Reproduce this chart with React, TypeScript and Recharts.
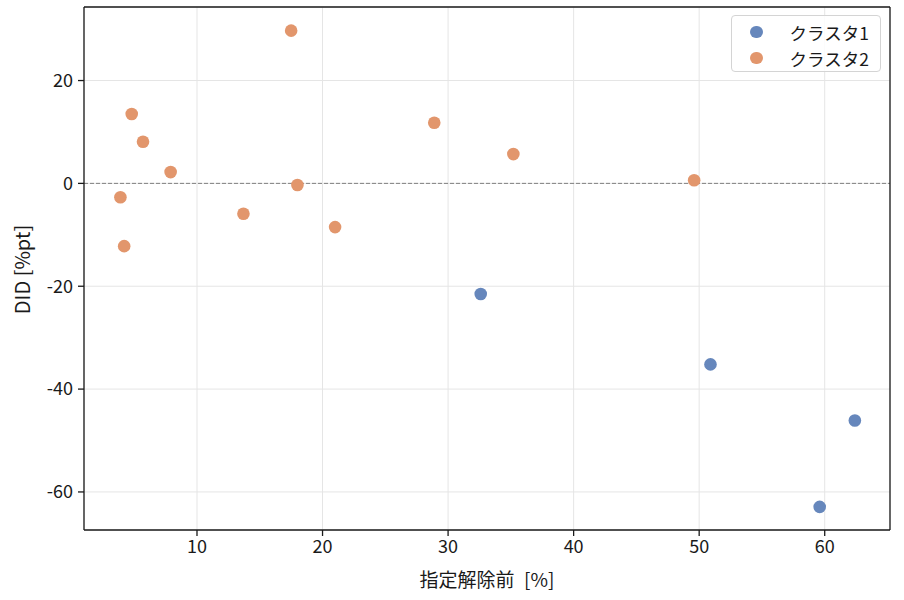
import React from 'react';
import {
  ScatterChart, Scatter, XAxis, YAxis, CartesianGrid, ReferenceLine,
} from 'recharts';

// cluster 1 (blue)
const cluster1X = [32.6, 50.9, 62.4, 59.6];
const cluster1Y = [-21.5, -35.2, -46.1, -62.9];
// cluster 2 (orange)
const cluster2X = [3.9, 4.2, 4.8, 5.7, 7.9, 13.7, 17.5, 18.0, 21.0, 28.9, 35.2, 49.6];
const cluster2Y = [-2.7, -12.2, 13.5, 8.1, 2.2, -5.9, 29.7, -0.3, -8.5, 11.8, 5.7, 0.6];

const xTicks = [10, 20, 30, 40, 50, 60];
const yTicks = [-60, -40, -20, 0, 20];
const xDomain = [1.0, 65.2];
const yDomain = [-67.4, 34.3];
const seriesNames = ['クラスタ1', 'クラスタ2'];
const seriesColors = ['#6687BC', '#E2966C'];

const toPoints = (xs: number[], ys: number[]) => xs.map((x, i) => ({ x, y: ys[i] }));
const data1 = toPoints(cluster1X, cluster1Y);
const data2 = toPoints(cluster2X, cluster2Y);

const FONT = '"Noto Sans CJK JP", "Noto Sans", sans-serif';
const INK = '#1a1a1a';
const tickStyle = { fontSize: 18, fill: INK, fontFamily: FONT };

const Dot = (props: any) => {
  const { cx, cy, fill } = props;
  return <circle cx={cx} cy={cy} r={6.3} fill={fill} />;
};

const LegendBox = () => (
  <div style={{
    position: 'absolute', left: 731, top: 15, width: 150, height: 57,
    border: '1px solid #d4d4d4', borderRadius: 4, background: 'rgba(255,255,255,0.85)',
    fontFamily: FONT, fontSize: 17.5, color: INK, boxSizing: 'border-box',
  }}>
    {seriesNames.map((n, i) => (
      <div key={n} style={{ display: 'flex', alignItems: 'center', height: 26, marginTop: i === 0 ? 3 : 0 }}>
        <span style={{
          display: 'inline-block', width: 12.6, height: 12.6, borderRadius: '50%',
          background: seriesColors[i], marginLeft: 18, marginRight: 27,
        }} />
        <span>{n}</span>
      </div>
    ))}
  </div>
);

const YLabel = ({ viewBox }: any) => {
  const cy = viewBox.y + viewBox.height / 2 + 1;
  return (
    <text
      x={21} y={cy} transform={`rotate(-90, 21, ${cy})`}
      textAnchor="middle" dominantBaseline="central"
      style={{ fontSize: 20, fontFamily: FONT, fill: INK }}
    >DID [%pt]</text>
  );
};

const XLabel = ({ viewBox }: any) => (
  <text
    x={viewBox.x + viewBox.width / 2} y={578}
    textAnchor="middle" dominantBaseline="central"
    style={{ fontSize: 19, fontFamily: FONT, fill: INK }}
  >{'指定解除前\u2002[%]'}</text>
);

export default function App() {
  return (
    <div style={{ position: 'absolute', left: 0, top: 0, width: 904, height: 600, background: '#fff' }}>
      <ScatterChart width={904} height={600} margin={{ top: 7, right: 14, bottom: 0, left: 0 }}>
        <CartesianGrid stroke="#e5e5e5" strokeWidth={1} />
        <XAxis
          type="number" dataKey="x" domain={xDomain} ticks={xTicks} allowDataOverflow
          height={70} tick={tickStyle} tickSize={6} tickMargin={4}
          stroke={INK} strokeWidth={1.3} label={<XLabel />}
        />
        <YAxis
          type="number" dataKey="y" domain={yDomain} ticks={yTicks} allowDataOverflow
          width={84} tick={tickStyle} tickSize={6} tickMargin={5}
          stroke={INK} strokeWidth={1.3} label={<YLabel />}
        />
        <ReferenceLine y={0} stroke="#808080" strokeDasharray="4 2" strokeWidth={1} />
        <ReferenceLine y={yDomain[1]} stroke={INK} strokeWidth={1.3} />
        <ReferenceLine x={xDomain[1]} stroke={INK} strokeWidth={1.3} />
        <Scatter name={seriesNames[0]} data={data1} fill={seriesColors[0]} shape={<Dot />} isAnimationActive={false} />
        <Scatter name={seriesNames[1]} data={data2} fill={seriesColors[1]} shape={<Dot />} isAnimationActive={false} />
      </ScatterChart>
      <LegendBox />
    </div>
  );
}
